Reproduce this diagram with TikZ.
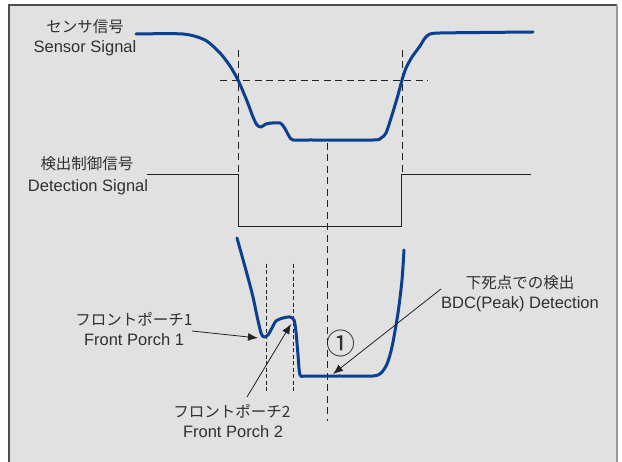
\documentclass[tikz,border=0pt]{standalone}
\usepackage{fontspec}
\setmainfont{Liberation Sans}
\newfontfamily\jpfont{Noto Sans CJK JP}
\usetikzlibrary{arrows.meta}
\definecolor{bgc}{HTML}{E1E1E1}
\definecolor{sigc}{HTML}{0B3F8F}
\definecolor{txtc}{HTML}{303030}
\definecolor{linec}{HTML}{222222}
\tikzset{
  lbl/.style={text=txtc,inner sep=0pt,font=\fontsize{16.5}{19}\selectfont},
  jlbl/.style={text=txtc,inner sep=0pt,font=\jpfont\fontsize{15.5}{19}\selectfont},
  sigline/.style={draw=sigc,line width=3pt,line cap=round,line join=round},
  detline/.style={draw=linec,line width=0.8pt},
  longdash/.style={draw=linec,line width=0.9pt,dash pattern=on 7pt off 4.5pt},
  shortdash/.style={draw=linec,line width=0.8pt,dash pattern=on 4pt off 2.5pt},
  ptr/.style={draw=linec,line width=0.8pt,-{Latex[length=10pt,width=8pt]}},
}
\begin{document}
\begin{tikzpicture}[x=1pt,y=-1pt]
\useasboundingbox (0,0) rectangle (622,462);
\fill[white] (0,0) rectangle (622,462);
% frame
\fill[bgc] (9,5) rectangle (617,470);
\draw[draw=linec!80,line width=2pt] (9,470) -- (9,5) -- (617,5);
\draw[draw=gray!80,line width=2pt] (617,5) -- (617,470);

% labels
\node[jlbl] (sjp) at (85,27) {センサ信号};
\node[lbl]  (sen) at (85,48) {Sensor Signal};
\node[jlbl] (djp) at (87,164) {検出制御信号};
\node[lbl]  (den) at (88,187) {Detection Signal};
\node[jlbl] (f1jp) at (134,319) {フロントポーチ1};
\node[lbl]  (f1en) at (134,340) {Front Porch 1};
\node[jlbl] (f2jp) at (232,411) {フロントポーチ2};
\node[lbl]  (f2en) at (233,432) {Front Porch 2};
\node[jlbl] (bjp) at (520,283) {下死点での検出};
\node[lbl]  (ben) at (520,304) {BDC(Peak) Detection};
\node[text=txtc,inner sep=0pt,font=\jpfont\fontsize{29}{30}\selectfont] (one) at (341,343) {①};

% threshold and timing dashes
\coordinate (thL) at (220,80); \coordinate (thR) at (428,80);
\draw[longdash] (thL) -- (thR);
\coordinate (vLt) at (238,50); \coordinate (vLb) at (238,174);
\coordinate (vRt) at (402,50); \coordinate (vRb) at (402,174);
\draw[longdash] (vLt) -- (vLb);
\draw[longdash] (vRt) -- (vRb);
\coordinate (vMt) at (327,143); \coordinate (vMb) at (327,421);
\draw[longdash] (vMt) -- (vMb);
\coordinate (p1t) at (266,264); \coordinate (p1b) at (266,392);
\coordinate (p2t) at (293,264); \coordinate (p2b) at (293,392);
\draw[shortdash] (p1t) -- (p1b);
\draw[shortdash] (p2t) -- (p2b);

% detection signal
\coordinate (d0) at (147,174); \coordinate (d1) at (238,174);
\coordinate (d2) at (238,226); \coordinate (d3) at (401,226);
\coordinate (d4) at (401,174); \coordinate (d5) at (531,174);
\draw[detline] (d0) -- (d1) -- (d2) -- (d3) -- (d4) -- (d5);

% sensor signal
\draw[sigline] plot[smooth,tension=0.45] coordinates {
 (136,34) (183,34) (205,40) (220,53) (230,66) (238,80) (247,101) (253,117)
 (257,125) (261,127) (266,124) (272,123) (280,123) (284,127) (289,136) (293,140)
 (310,140) (373,140) (381,138) (386,133) (392,115) (398,95) (402,80) (406,68)
 (412,57) (420,46) (425,38) (430,34) (440,33) (480,32.5) (533,32)};

% lower (enlarged) signal
\draw[sigline] plot[smooth,tension=0.45] coordinates {
 (237,238) (247,274) (253,297) (257,316) (261,333) (264,337) (268,335) (272,328)
 (276,321) (283,318) (290,317) (294,320) (296,332) (298,355) (300,375) (306,376)
 (340,376) (373,376) (381,373) (387,364) (392,347) (398,313) (402,280) (404,250)};

% pointers
\coordinate (a1s) at (192,331); \coordinate (a1e) at (258,338);
\coordinate (a2s) at (247,397); \coordinate (a2e) at (291,324);
\coordinate (a3s) at (441,289); \coordinate (a3e) at (333,374);
\draw[ptr] (a1s) -- (a1e);
\draw[ptr] (a2s) -- (a2e);
\draw[ptr] (a3s) -- (a3e);
\end{tikzpicture}
\end{document}
